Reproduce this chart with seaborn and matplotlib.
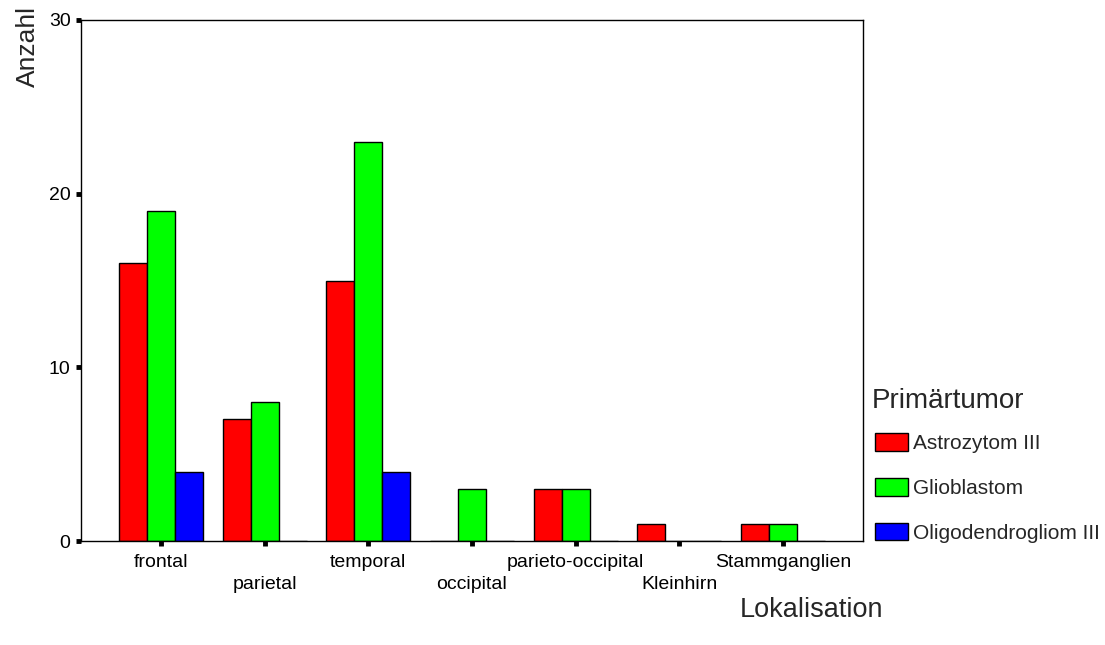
import matplotlib
matplotlib.use("Agg")
import matplotlib.pyplot as plt
import seaborn as sns
import pandas as pd

# data
lokalisation = ["frontal", "parietal", "temporal", "occipital",
                "parieto-occipital", "Kleinhirn", "Stammganglien"]
astrozytom = [16, 7, 15, 0, 3, 1, 1]
glioblastom = [19, 8, 23, 3, 3, 0, 1]
oligodendrogliom = [4, 0, 4, 0, 0, 0, 0]
tumor_names = ["Astrozytom III", "Glioblastom", "Oligodendrogliom III"]
colors = ["#ff0000", "#00ff00", "#0000ff"]

df = pd.DataFrame({"Lokalisation": lokalisation * 3,
                   "Primärtumor": [t for t in tumor_names for _ in lokalisation],
                   "Anzahl": astrozytom + glioblastom + oligodendrogliom})

sns.set_style("white")
plt.rcParams["font.family"] = ["Liberation Sans", "DejaVu Sans"]

fig = plt.figure(figsize=(11.05, 6.45), dpi=100)
ax = fig.add_axes([0.0733, 0.1612, 0.7076, 0.8078])

sns.barplot(data=df, x="Lokalisation", y="Anzahl", hue="Primärtumor",
            order=lokalisation, hue_order=tumor_names, palette=colors,
            width=0.81, edgecolor="black", linewidth=1, saturation=1,
            ax=ax, legend=True)

ax.set_xlim(-0.77, 6.77)
ax.set_ylim(0, 30)
ax.set_yticks([0, 10, 20, 30])
ax.set_xticks(range(len(lokalisation)))
# alternate the label rows like the original
ax.set_xticklabels([lab if i % 2 == 0 else "\n" + lab
                    for i, lab in enumerate(lokalisation)], fontsize=14,
                   linespacing=1.4)
ax.tick_params(axis="y", labelsize=14)
ax.tick_params(axis="both", which="major", bottom=True, left=True,
               direction="out", length=3.5, width=3.5, color="black",
               pad=4, labelcolor="black")
ax.tick_params(axis="x", pad=6)

for s in ax.spines.values():
    s.set_color("black")
    s.set_linewidth(1)

ax.set_xlabel("")
ax.set_ylabel("")
fig.text(0.025, 0.99, "Anzahl", rotation=90, ha="center", va="top", fontsize=19)
fig.text(0.734, 0.055, "Lokalisation", ha="center", va="center", fontsize=19.5)

handles, labels = ax.get_legend_handles_labels()
ax.get_legend().remove()
fig.text(0.789, 0.378, "Primärtumor", ha="left", va="center", fontsize=20)
fig.legend(handles, labels, loc="upper left",
           bbox_to_anchor=(0.792, 0.328), frameon=False, fontsize=15,
           handlelength=1.6, handleheight=0.9, labelspacing=1.2,
           handletextpad=0.2, borderaxespad=0, borderpad=0)

fig.savefig("out.png", dpi=100)
